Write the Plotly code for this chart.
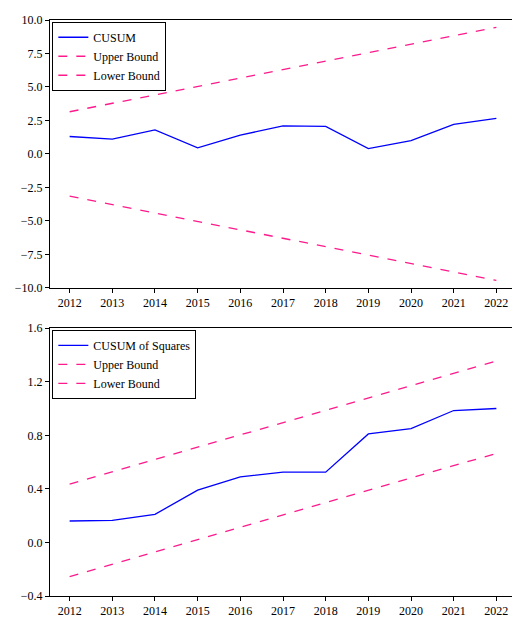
import plotly.graph_objects as go
from plotly.subplots import make_subplots

years = list(range(2012, 2023))
cusum = [1.3, 1.1, 1.8, 0.45, 1.4, 2.1, 2.05, 0.4, 1.0, 2.2, 2.65]
cusum_upper = [3.15, 3.78, 4.41, 5.04, 5.67, 6.30, 6.93, 7.56, 8.19, 8.82, 9.45]
cusum_lower = [-3.15, -3.78, -4.41, -5.04, -5.67, -6.30, -6.93, -7.56, -8.19, -8.82, -9.45]

cusumsq = [0.16, 0.165, 0.21, 0.39, 0.49, 0.525, 0.525, 0.81, 0.85, 0.985, 1.0]
sq_upper = [0.435, 0.527, 0.619, 0.711, 0.803, 0.895, 0.987, 1.079, 1.171, 1.263, 1.355]
sq_lower = [-0.255, -0.163, -0.071, 0.021, 0.113, 0.205, 0.297, 0.389, 0.481, 0.573, 0.665]

blue = "#0000ff"
pink = "#ff1a8c"

fig = make_subplots(rows=2, cols=1)

# --- верхний график: CUSUM ---
fig.add_trace(go.Scatter(x=years, y=cusum, mode="lines", name="CUSUM",
                         line=dict(color=blue, width=1.3), legend="legend"), row=1, col=1)
fig.add_trace(go.Scatter(x=years, y=cusum_upper, mode="lines", name="Upper Bound",
                         line=dict(color=pink, width=1.3, dash="dash"), legend="legend"), row=1, col=1)
fig.add_trace(go.Scatter(x=years, y=cusum_lower, mode="lines", name="Lower Bound",
                         line=dict(color=pink, width=1.3, dash="dash"), legend="legend"), row=1, col=1)

# --- нижний график: CUSUM of Squares ---
fig.add_trace(go.Scatter(x=years, y=cusumsq, mode="lines", name="CUSUM of Squares",
                         line=dict(color=blue, width=1.3), legend="legend2"), row=2, col=1)
fig.add_trace(go.Scatter(x=years, y=sq_upper, mode="lines", name="Upper Bound",
                         line=dict(color=pink, width=1.3, dash="dash"), legend="legend2"), row=2, col=1)
fig.add_trace(go.Scatter(x=years, y=sq_lower, mode="lines", name="Lower Bound",
                         line=dict(color=pink, width=1.3, dash="dash"), legend="legend2"), row=2, col=1)

axis_style = dict(showline=True, linecolor="black", linewidth=1, mirror=True,
                  ticks="outside", ticklen=4, tickcolor="black", showgrid=False,
                  zeroline=False, tickfont=dict(size=12, color="black"))
fig.update_xaxes(range=[2011.54, 2022.46], tickvals=years, **axis_style)
fig.update_yaxes(**axis_style)
fig.update_yaxes(range=[-10, 10], tickvals=[-10, -7.5, -5, -2.5, 0, 2.5, 5, 7.5, 10],
                 tickformat=".1f", row=1, col=1)
fig.update_yaxes(range=[-0.4, 1.6], tickvals=[-0.4, 0, 0.4, 0.8, 1.2, 1.6],
                 tickformat=".1f", row=2, col=1)
fig.update_yaxes(domain=[0.535, 1.0], row=1, col=1)
fig.update_yaxes(domain=[0.0, 0.465], row=2, col=1)

legend_style = dict(bgcolor="white", bordercolor="black", borderwidth=1,
                    font=dict(size=12, color="black"), tracegroupgap=0,
                    xanchor="left", yanchor="top", itemwidth=30)
fig.update_layout(
    width=520, height=618,
    margin=dict(l=42, r=12, t=5, b=30),
    paper_bgcolor="white", plot_bgcolor="white",
    font=dict(family="Liberation Serif", size=12, color="black"),
    showlegend=True,
    legend=dict(x=0.005, y=0.997, **legend_style),
    legend2=dict(x=0.005, y=0.462, **legend_style),
)

fig.write_html("out.html")
